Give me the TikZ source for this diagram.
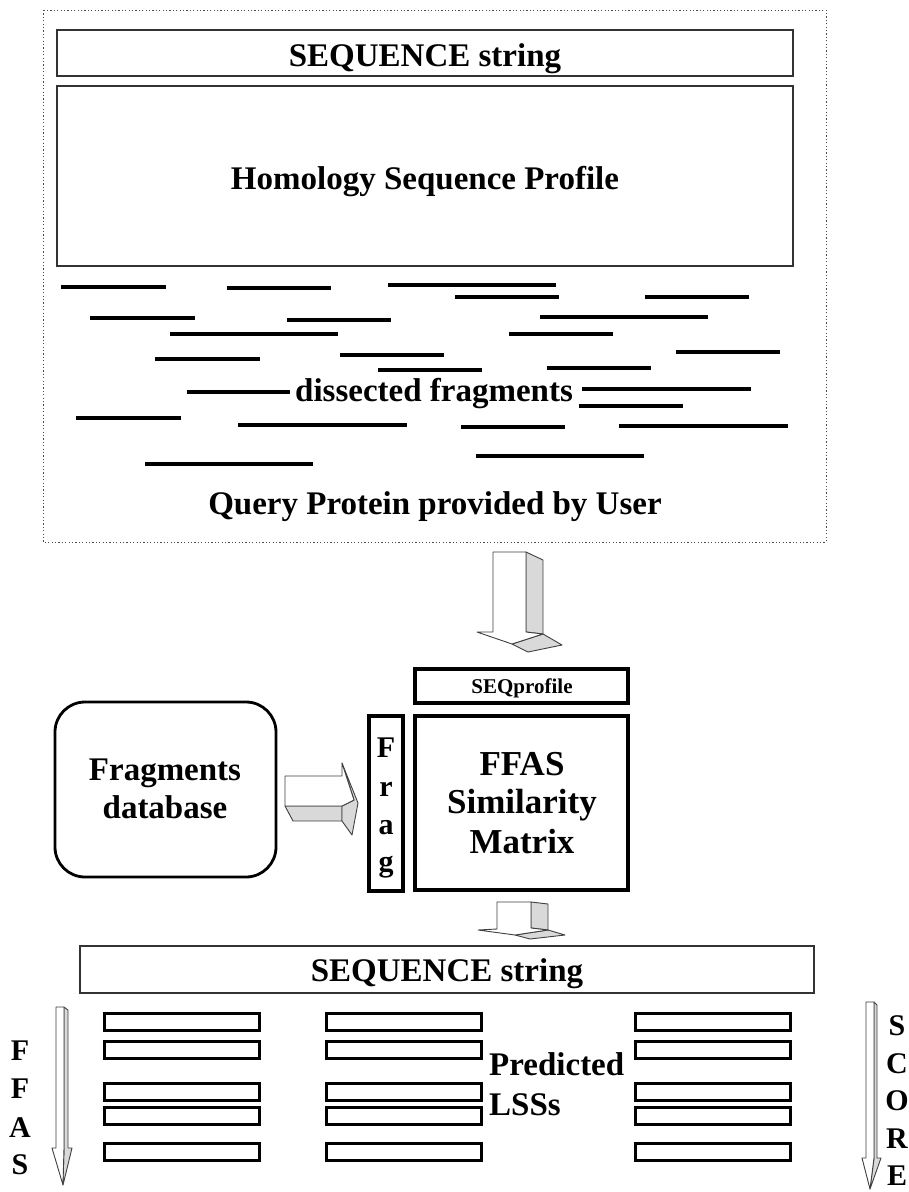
\documentclass[tikz,border=0pt]{standalone}
\usepackage{fontspec}
\setmainfont{Liberation Serif}
\begin{document}
\begin{tikzpicture}[x=1pt,y=-1pt,
  bx/.style={inner sep=0pt, outer sep=0pt, anchor=north west},
  thinbox/.style={bx, draw=black!80, line width=1.3pt},
  thickbox/.style={bx, draw=black, line width=3.2pt},
  fragline/.style={line width=3.6pt, draw=black},
  lbl/.style={font=\fontsize{33}{36}\selectfont\bfseries, anchor=base, inner sep=0pt},
  lblbig/.style={font=\fontsize{35}{38}\selectfont\bfseries, anchor=base, inner sep=0pt},
  lblsmall/.style={font=\fontsize{21}{24}\selectfont\bfseries, anchor=base, inner sep=0pt},
  letter/.style={font=\fontsize{30}{32}\selectfont\bfseries, anchor=base, inner sep=0pt},
  face/.style={draw=black!75, line width=0.9pt, fill=white, line join=round},
  side/.style={draw=black!75, line width=0.9pt, fill=black!15, line join=round}]
\useasboundingbox (0,0) rectangle (909,1192);
\fill[white] (0,0) rectangle (909,1192);

% ---------- top dotted region ----------
\draw[draw=black!70, line width=1pt, dash pattern=on 1.2pt off 2.2pt] (43,10) rectangle (826,542);
\node[thinbox, minimum width=736pt, minimum height=46pt] (seqtop) at (57,30) {};
\node[lbl] (seqtoptxt) at (425,66) {SEQUENCE string};
\node[thinbox, minimum width=736pt, minimum height=180pt] (homol) at (57,86) {};
\node[lbl] (homoltxt) at (425,189) {Homology Sequence Profile};

% dissected fragments
\foreach \xa/\xb/\yy in {61/166/287, 227/331/288, 388/556/285, 90/195/318, 287/391/320,
  170/338/334, 155/260/359, 340/444/355, 378/482/370, 187/290/392, 76/181/418,
  238/407/425, 145/313/464, 455/559/297, 645/749/297, 540/708/317, 509/613/334,
  676/780/352, 547/651/368, 582/751/389, 579/683/406, 461/565/427, 619/788/426,
  476/644/456}
  \draw[fragline] (\xa,\yy) -- (\xb,\yy);
\node[lbl] (dissect) at (434,401) {dissected fragments};
\node[lbl] (query) at (435,514) {Query Protein provided by User};

% ---------- arrow 1 (down) ----------
\filldraw[side] (526,552) -- (543,560) -- (543,634) -- (526,632) -- cycle;
\filldraw[side] (512,644) -- (543,634) -- (562,645) -- (528,652) -- cycle;
\filldraw[face] (493,552) -- (526,552) -- (526,632) -- (543,634) -- (512,644) -- (477,632) -- (493,632) -- cycle;

% ---------- middle ----------
\node[bx, draw=black, line width=2.8pt, rounded corners=30pt, minimum width=221pt, minimum height=175pt] (fragdb) at (55,702) {};
\node[lbl] (fragdbtxt1) at (165,780) {Fragments};
\node[lbl] (fragdbtxt2) at (165,818) {database};

% arrow 2 (right)
\filldraw[side] (285,806) -- (342,806) -- (342,821) -- (293,821) -- cycle;
\filldraw[side] (342,763) -- (358,803) -- (352,835) -- (342,821) -- (342,806) -- (354,800) -- cycle;
\filldraw[face] (285,776) -- (342,776) -- (342,763) -- (354,800) -- (342,806) -- (285,806) -- cycle;

\node[thickbox, minimum width=34pt, minimum height=175pt] (frag) at (369,716) {};
\node[letter] (fF) at (386,757) {F};
\node[letter] (fr) at (386,796) {r};
\node[letter] (fa) at (386,834) {a};
\node[letter] (fg) at (386,871) {g};

\node[thickbox, minimum width=213pt, minimum height=34pt] (seqprof) at (415,669) {};
\node[lblsmall] (seqproftxt) at (522,693) {SEQprofile};
\node[thickbox, minimum width=213pt, minimum height=174pt] (ffas) at (415,716) {};
\node[lblbig] (ffas1) at (522,775) {FFAS};
\node[lblbig] (ffas2) at (522,813) {Similarity};
\node[lblbig] (ffas3) at (522,853) {Matrix};

% ---------- arrow 3 (down) ----------
\filldraw[side] (531,902) -- (548,904) -- (548,930) -- (531,928) -- cycle;
\filldraw[side] (515,935) -- (548,930) -- (565,935) -- (530,939) -- cycle;
\filldraw[face] (497,902) -- (531,902) -- (531,928) -- (548,930) -- (515,935) -- (478,930) -- (497,929) -- cycle;

% ---------- bottom ----------
\node[thinbox, minimum width=734pt, minimum height=47pt] (seqbot) at (80,946) {};
\node[lbl] (seqbottxt) at (447,981) {SEQUENCE string};

\foreach \cx [count=\ci] in {104,326,635}
  \foreach \ry [count=\ri] in {1013,1041,1083,1107,1143}
    \node[bx, draw=black, line width=3pt, minimum width=155pt, minimum height=17pt] (lss\ci\ri) at (\cx,\ry) {};

\node[lbl, anchor=base west] (pred1) at (489,1075) {Predicted};
\node[lbl, anchor=base west] (pred2) at (489,1115) {LSSs};

% FFAS arrow (left)
\filldraw[side] (64,1007) -- (68,1010) -- (68,1148) -- (72,1148) -- (63,1185) -- (64,1148) -- cycle;
\filldraw[face] (56,1007) -- (64,1007) -- (64,1148) -- (63,1185) -- (52,1148) -- (56,1148) -- cycle;
\node[letter] (lF1) at (20,1060) {F};
\node[letter] (lF2) at (20,1098) {F};
\node[letter] (lA) at (20,1137) {A};
\node[letter] (lS) at (20,1174) {S};

% SCORE arrow (right)
\filldraw[side] (874,1002) -- (877,1005) -- (877,1158) -- (881,1158) -- (870,1189) -- (874,1158) -- cycle;
\filldraw[face] (866,1002) -- (874,1002) -- (874,1158) -- (870,1189) -- (862,1158) -- (866,1158) -- cycle;
\node[letter] (rS) at (897,1035) {S};
\node[letter] (rC) at (897,1073) {C};
\node[letter] (rO) at (897,1110) {O};
\node[letter] (rR) at (897,1148) {R};
\node[letter] (rE) at (897,1185) {E};
\end{tikzpicture}
\end{document}
